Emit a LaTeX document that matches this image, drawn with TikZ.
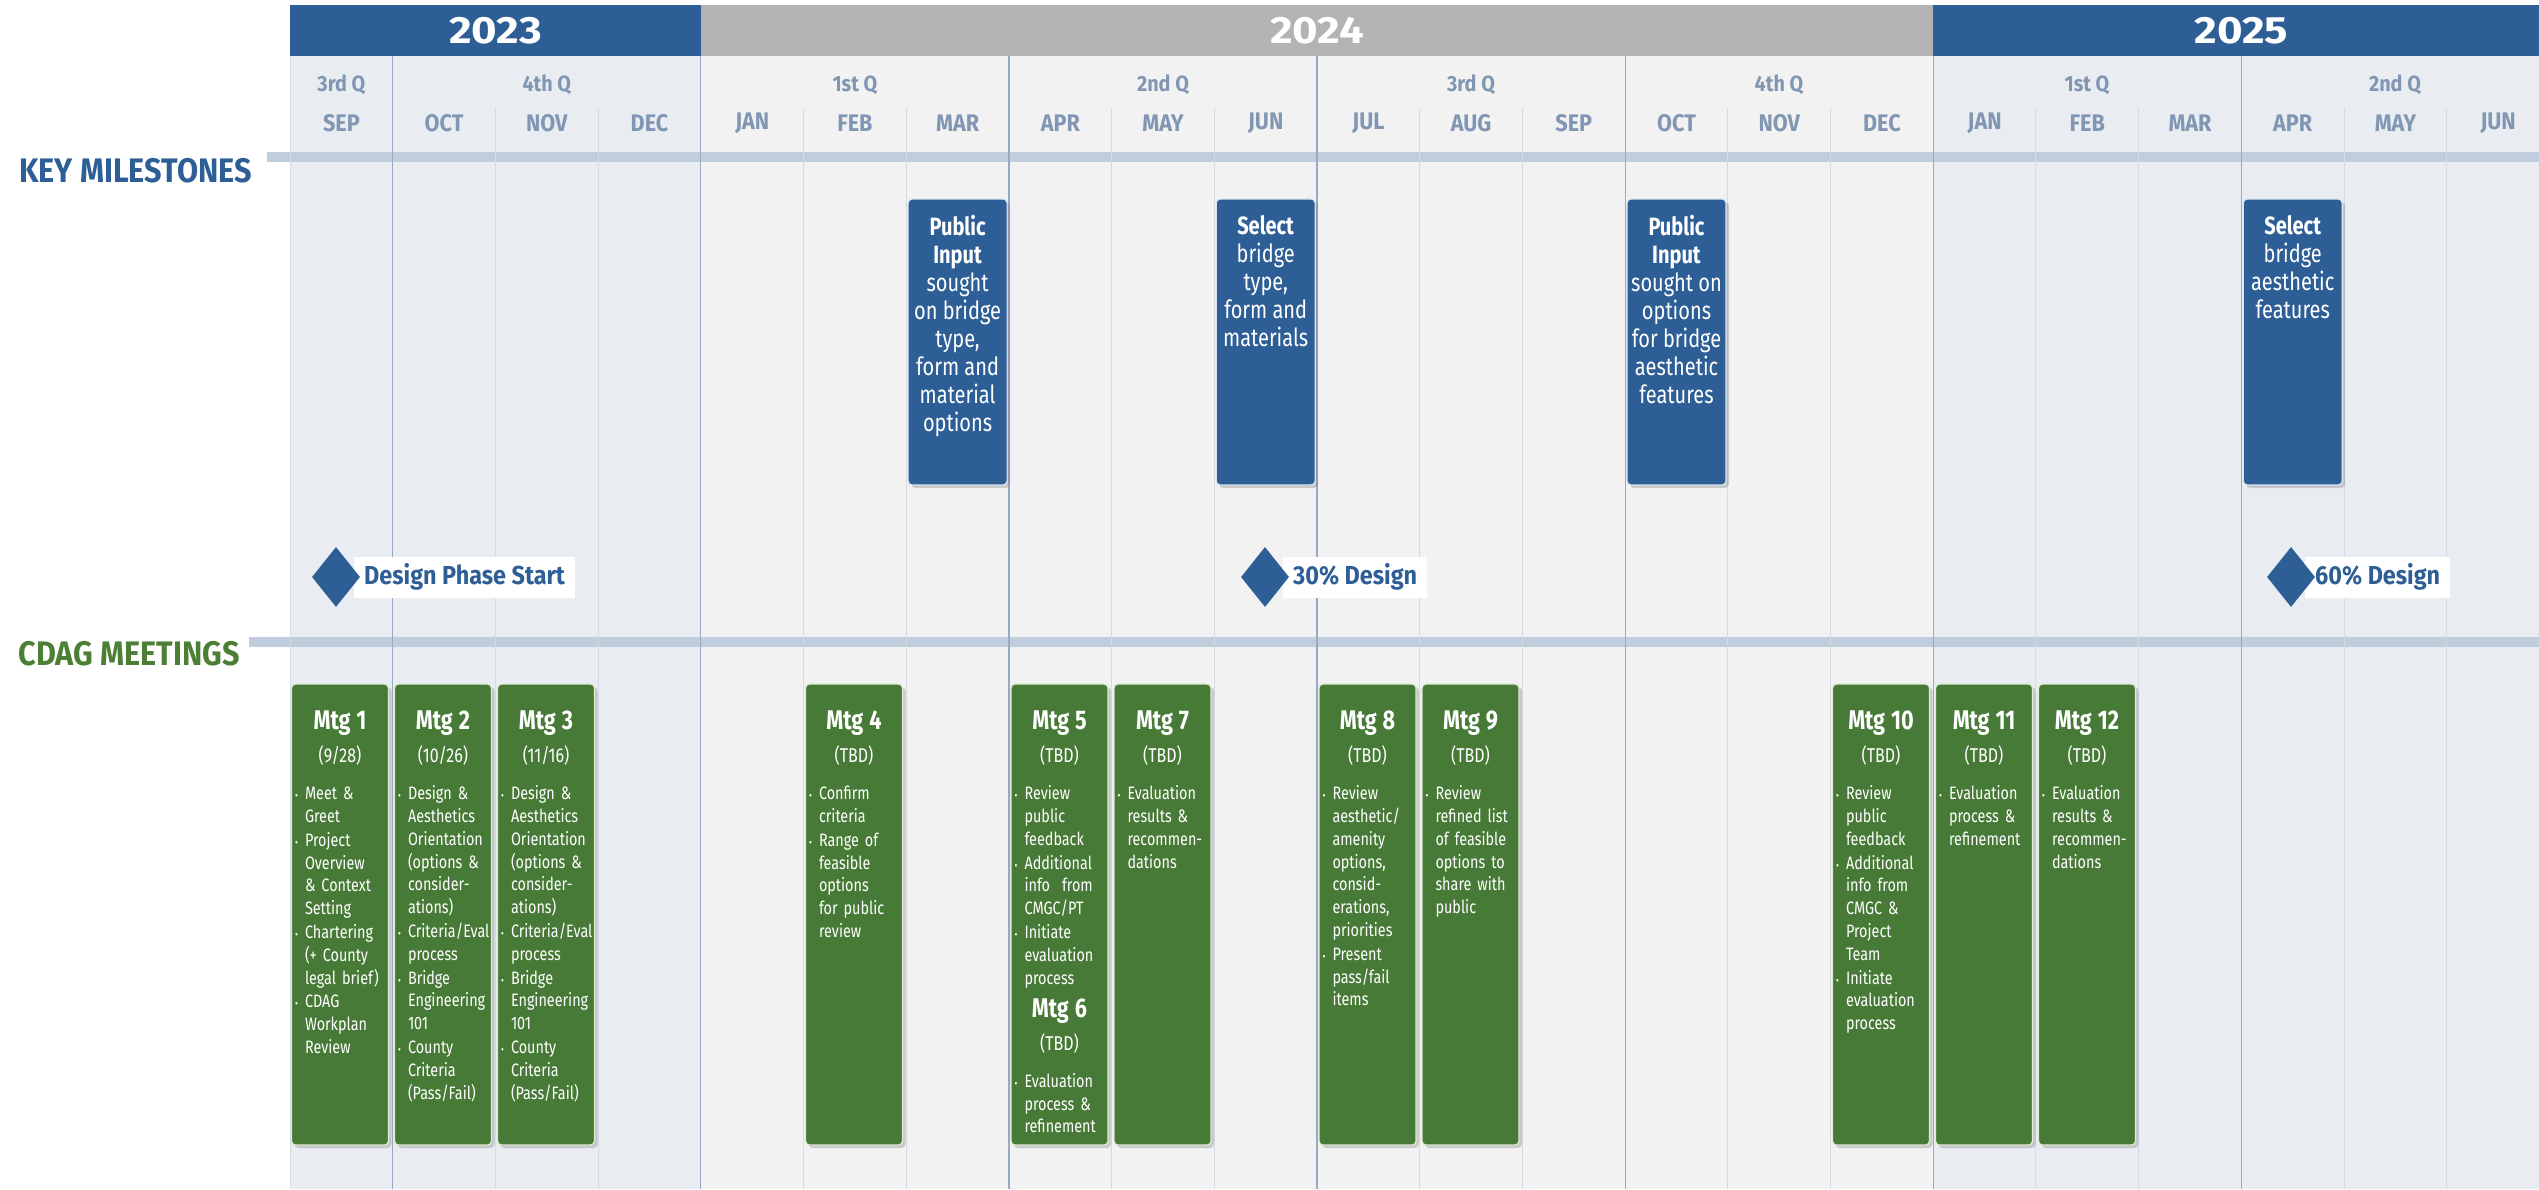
\documentclass[tikz,border=0pt]{standalone}
\usepackage{fontspec}
\setmainfont{Fira Sans}[FakeStretch=0.8]
\newfontfamily\wideFont{Fira Sans}[FakeStretch=0.9]
\newfontfamily\yearFont{Fira Sans}[FakeStretch=1.15]
\usepackage{tikz}
\usetikzlibrary{positioning,shapes.geometric,shadows}
\definecolor{chartBlue}{RGB}{45,94,150}
\definecolor{chartGreen}{RGB}{72,122,55}
\definecolor{titleGreen}{RGB}{75,127,52}
\definecolor{yearGray}{RGB}{179,179,179}
\definecolor{labelBlue}{RGB}{128,150,179}
\definecolor{ruleBlue}{RGB}{191,205,220}
\definecolor{bgBlue}{RGB}{233,237,242}
\definecolor{bgGray}{RGB}{242,242,242}
\definecolor{qLine}{RGB}{152,170,195}
\definecolor{mLine}{RGB}{212,219,227}
\newcommand{\mtgHead}[2]{{\centering\fontsize{27}{27}\selectfont\bfseries #1\par}{\centering\fontsize{20}{33}\selectfont #2\par}\vspace{14pt}}
\newcommand{\bul}[1]{\par\noindent\makebox[10pt][l]{\fontsize{11}{11}\selectfont\textbullet}\begin{tabular}[t]{@{}l@{}}#1\end{tabular}\par}
\tikzstyle{yearBar}=[shape = rectangle, minimum height = 51pt, inner sep = 0pt, text = white, font = \yearFont\fontsize{38}{38}\selectfont\bfseries]
\tikzstyle{quarterLabel}=[inner sep = 0pt, text = labelBlue, font = \wideFont\fontsize{22}{22}\selectfont\bfseries]
\tikzstyle{monthLabel}=[inner sep = 0pt, text = labelBlue, font = \wideFont\fontsize{24}{24}\selectfont\bfseries]
\tikzstyle{sectionTitle}=[inner sep = 0pt, anchor = east, font = \wideFont\fontsize{34}{34}\selectfont\bfseries]
\tikzstyle{milestoneBox}=[shape = rectangle, rounded corners = 4pt, minimum width = 99pt, minimum height = 286pt, fill = chartBlue, draw = {rgb,255:red,220;green,230;blue,240}, line width = 1.2pt, drop shadow = {shadow xshift = 3pt, shadow yshift = -3pt, opacity = 0.35}]
\tikzstyle{meetingBox}=[shape = rectangle, rounded corners = 4pt, minimum width = 97pt, minimum height = 461pt, fill = chartGreen, draw = {rgb,255:red,222;green,234;blue,212}, line width = 1.2pt, drop shadow = {shadow xshift = 3pt, shadow yshift = -3pt, opacity = 0.35}]

\begin{document}
\begin{tikzpicture}[x = 1pt, y = -1pt]
\tikzstyle{milestoneText}=[inner sep = 0pt, align = center, text = white, font = \fontsize{25}{28}\selectfont]
\tikzstyle{meetingText}=[inner sep = 0pt, text width = 90pt, text = white, font = \fontsize{18}{22.8}\selectfont]
\tikzstyle{keyDiamond}=[shape = diamond, minimum width = 48pt, minimum height = 60pt, inner sep = 0pt, fill = chartBlue]
\tikzstyle{diamondLabel}=[anchor = west, fill = white, minimum height = 41pt, inner xsep = 10pt, text = chartBlue, font = \wideFont\fontsize{26}{26}\selectfont\bfseries]
\tikzstyle{quarterLine}=[draw = qLine, line width = 1.2pt]
\tikzstyle{monthLine}=[draw = mLine, line width = 1pt]
\tikzstyle{bandRule}=[draw = ruleBlue, line width = 10pt]
\useasboundingbox (0,0) rectangle (2539,1189);
\fill[white] (0,0) rectangle (2539,1189);
\fill[bgBlue] (290,56) rectangle (700.8,1189);
\fill[bgGray] (700.8,56) rectangle (1933.2,1189);
\fill[bgBlue] (1933.2,56) rectangle (2549.4,1189);
\node[yearBar, fill = chartBlue, minimum width = 410.8pt] (y2023) at (495.4,30.5) {2023};
\node[yearBar, fill = yearGray, minimum width = 1232.4pt] (y2024) at (1317,30.5) {2024};
\node[yearBar, fill = chartBlue, minimum width = 616.2pt] (y2025) at (2241.3,30.5) {2025};
\node[quarterLabel] (q1) at (341.4,85) {3rd Q};
\node[quarterLabel] (q2) at (546.8,85) {4th Q};
\node[quarterLabel] (q3) at (854.9,85) {1st Q};
\node[quarterLabel] (q4) at (1163,85) {2nd Q};
\node[quarterLabel] (q5) at (1471,85) {3rd Q};
\node[quarterLabel] (q6) at (1779,85) {4th Q};
\node[quarterLabel] (q7) at (2087,85) {1st Q};
\node[quarterLabel] (q8) at (2395,85) {2nd Q};
\node[monthLabel] (mo0) at (341.4,123) {SEP};
\node[monthLabel] (mo1) at (444.1,123) {OCT};
\node[monthLabel] (mo2) at (546.8,123) {NOV};
\node[monthLabel] (mo3) at (649.5,123) {DEC};
\node[monthLabel] (mo4) at (752.2,123) {JAN};
\node[monthLabel] (mo5) at (854.9,123) {FEB};
\node[monthLabel] (mo6) at (957.6,123) {MAR};
\node[monthLabel] (mo7) at (1060.3,123) {APR};
\node[monthLabel] (mo8) at (1163,123) {MAY};
\node[monthLabel] (mo9) at (1265.7,123) {JUN};
\node[monthLabel] (mo10) at (1368.4,123) {JUL};
\node[monthLabel] (mo11) at (1471.1,123) {AUG};
\node[monthLabel] (mo12) at (1573.8,123) {SEP};
\node[monthLabel] (mo13) at (1676.5,123) {OCT};
\node[monthLabel] (mo14) at (1779.2,123) {NOV};
\node[monthLabel] (mo15) at (1881.9,123) {DEC};
\node[monthLabel] (mo16) at (1984.6,123) {JAN};
\node[monthLabel] (mo17) at (2087.3,123) {FEB};
\node[monthLabel] (mo18) at (2190,123) {MAR};
\node[monthLabel] (mo19) at (2292.7,123) {APR};
\node[monthLabel] (mo20) at (2395.4,123) {MAY};
\node[monthLabel] (mo21) at (2498.1,123) {JUN};
\draw[bandRule] (267,157) -- (2539,157);
\draw[bandRule] (249,642) -- (2539,642);
\draw[monthLine] (290,56) -- (290,1189);
\draw[quarterLine] (392.7,56) -- (392.7,1189);
\draw[monthLine] (495.4,108) -- (495.4,1189);
\draw[monthLine] (598.1,108) -- (598.1,1189);
\draw[quarterLine] (700.8,56) -- (700.8,1189);
\draw[monthLine] (803.5,108) -- (803.5,1189);
\draw[monthLine] (906.2,108) -- (906.2,1189);
\draw[quarterLine] (1008.9,56) -- (1008.9,1189);
\draw[monthLine] (1111.6,108) -- (1111.6,1189);
\draw[monthLine] (1214.3,108) -- (1214.3,1189);
\draw[quarterLine] (1317,56) -- (1317,1189);
\draw[monthLine] (1419.7,108) -- (1419.7,1189);
\draw[monthLine] (1522.4,108) -- (1522.4,1189);
\draw[quarterLine] (1625.1,56) -- (1625.1,1189);
\draw[monthLine] (1727.8,108) -- (1727.8,1189);
\draw[monthLine] (1830.5,108) -- (1830.5,1189);
\draw[quarterLine] (1933.2,56) -- (1933.2,1189);
\draw[monthLine] (2035.9,108) -- (2035.9,1189);
\draw[monthLine] (2138.6,108) -- (2138.6,1189);
\draw[quarterLine] (2241.3,56) -- (2241.3,1189);
\draw[monthLine] (2344,108) -- (2344,1189);
\draw[monthLine] (2446.7,108) -- (2446.7,1189);
\node[sectionTitle, text = chartBlue] (keyTitle) at (252,171) {KEY MILESTONES};
\node[sectionTitle, text = titleGreen] (cdagTitle) at (240,654) {CDAG MEETINGS};
\node[milestoneBox] (ms1) at (957.6,342) {};
\node[milestoneBox] (ms2) at (1265.7,342) {};
\node[milestoneBox] (ms3) at (1676.5,342) {};
\node[milestoneBox] (ms4) at (2292.7,342) {};
\node[milestoneText, below = 17pt of ms1.north] (ms1t) {\textbf{Public}\\\textbf{Input}\\sought\\on bridge\\type,\\form and\\material\\options};
\node[milestoneText, below = 17pt of ms2.north] (ms2t) {\textbf{Select}\\bridge\\type,\\form and\\materials};
\node[milestoneText, below = 17pt of ms3.north] (ms3t) {\textbf{Public}\\\textbf{Input}\\sought on\\options\\for bridge\\aesthetic\\features};
\node[milestoneText, below = 17pt of ms4.north] (ms4t) {\textbf{Select}\\bridge\\aesthetic\\features};
\node[diamondLabel] (lStart) at (354,577) {Design Phase Start};
\node[diamondLabel] (l30) at (1283,577) {30\% Design};
\node[diamondLabel] (l60) at (2305,577) {60\% Design};
\node[keyDiamond] (dStart) at (336,577) {};
\node[keyDiamond] (d30) at (1265,577) {};
\node[keyDiamond] (d60) at (2291,577) {};
\node[meetingBox] (m1) at (340,914.5) {};
\node[meetingBox] (m2) at (443,914.5) {};
\node[meetingBox] (m3) at (546,914.5) {};
\node[meetingBox] (m4) at (854,914.5) {};
\node[meetingBox] (m5) at (1059.5,914.5) {};
\node[meetingBox] (m7) at (1162.5,914.5) {};
\node[meetingBox] (m8) at (1367.5,914.5) {};
\node[meetingBox] (m9) at (1470.5,914.5) {};
\node[meetingBox] (m10) at (1881,914.5) {};
\node[meetingBox] (m11) at (1984,914.5) {};
\node[meetingBox] (m12) at (2087,914.5) {};
\node[meetingText, below = 27.5pt of m1.north] (m1t) {\mtgHead{Mtg 1}{(9/28)}\bul{Meet \&\\Greet}\bul{Project\\Overview\\\& Context\\Setting}\bul{Chartering\\(+ County\\legal brief)}\bul{CDAG\\Workplan\\Review}};
\node[meetingText, below = 27.5pt of m2.north] (m2t) {\mtgHead{Mtg 2}{(10/26)}\bul{Design \&\\Aesthetics\\Orientation\\(options \&\\consider-\\ations)}\bul{Criteria/Eval\\process}\bul{Bridge\\Engineering\\101}\bul{County\\Criteria\\(Pass/Fail)}};
\node[meetingText, below = 27.5pt of m3.north] (m3t) {\mtgHead{Mtg 3}{(11/16)}\bul{Design \&\\Aesthetics\\Orientation\\(options \&\\consider-\\ations)}\bul{Criteria/Eval\\process}\bul{Bridge\\Engineering\\101}\bul{County\\Criteria\\(Pass/Fail)}};
\node[meetingText, below = 27.5pt of m4.north] (m4t) {\mtgHead{Mtg 4}{(TBD)}\bul{Confirm\\criteria}\bul{Range of\\feasible\\options\\for public\\review}};
\node[meetingText, below = 27.5pt of m5.north] (m5t) {\mtgHead{Mtg 5}{(TBD)}\bul{Review\\public\\feedback}\bul{Additional\\info\ \ from\\CMGC/PT}\bul{Initiate\\evaluation\\process}\vspace{7pt}\mtgHead{Mtg 6}{(TBD)}\bul{Evaluation\\process \&\\refinement}};
\node[meetingText, below = 27.5pt of m7.north] (m7t) {\mtgHead{Mtg 7}{(TBD)}\bul{Evaluation\\results \&\\recommen-\\dations}};
\node[meetingText, below = 27.5pt of m8.north] (m8t) {\mtgHead{Mtg 8}{(TBD)}\bul{Review\\aesthetic/\\amenity\\options,\\consid-\\erations,\\priorities}\bul{Present\\pass/fail\\items}};
\node[meetingText, below = 27.5pt of m9.north] (m9t) {\mtgHead{Mtg 9}{(TBD)}\bul{Review\\refined list\\of feasible\\options to\\share with\\public}};
\node[meetingText, below = 27.5pt of m10.north] (m10t) {\mtgHead{Mtg 10}{(TBD)}\bul{Review\\public\\feedback}\bul{Additional\\info from\\CMGC \&\\Project\\Team}\bul{Initiate\\evaluation\\process}};
\node[meetingText, below = 27.5pt of m11.north] (m11t) {\mtgHead{Mtg 11}{(TBD)}\bul{Evaluation\\process \&\\refinement}};
\node[meetingText, below = 27.5pt of m12.north] (m12t) {\mtgHead{Mtg 12}{(TBD)}\bul{Evaluation\\results \&\\recommen-\\dations}};
\end{tikzpicture}
\end{document}
